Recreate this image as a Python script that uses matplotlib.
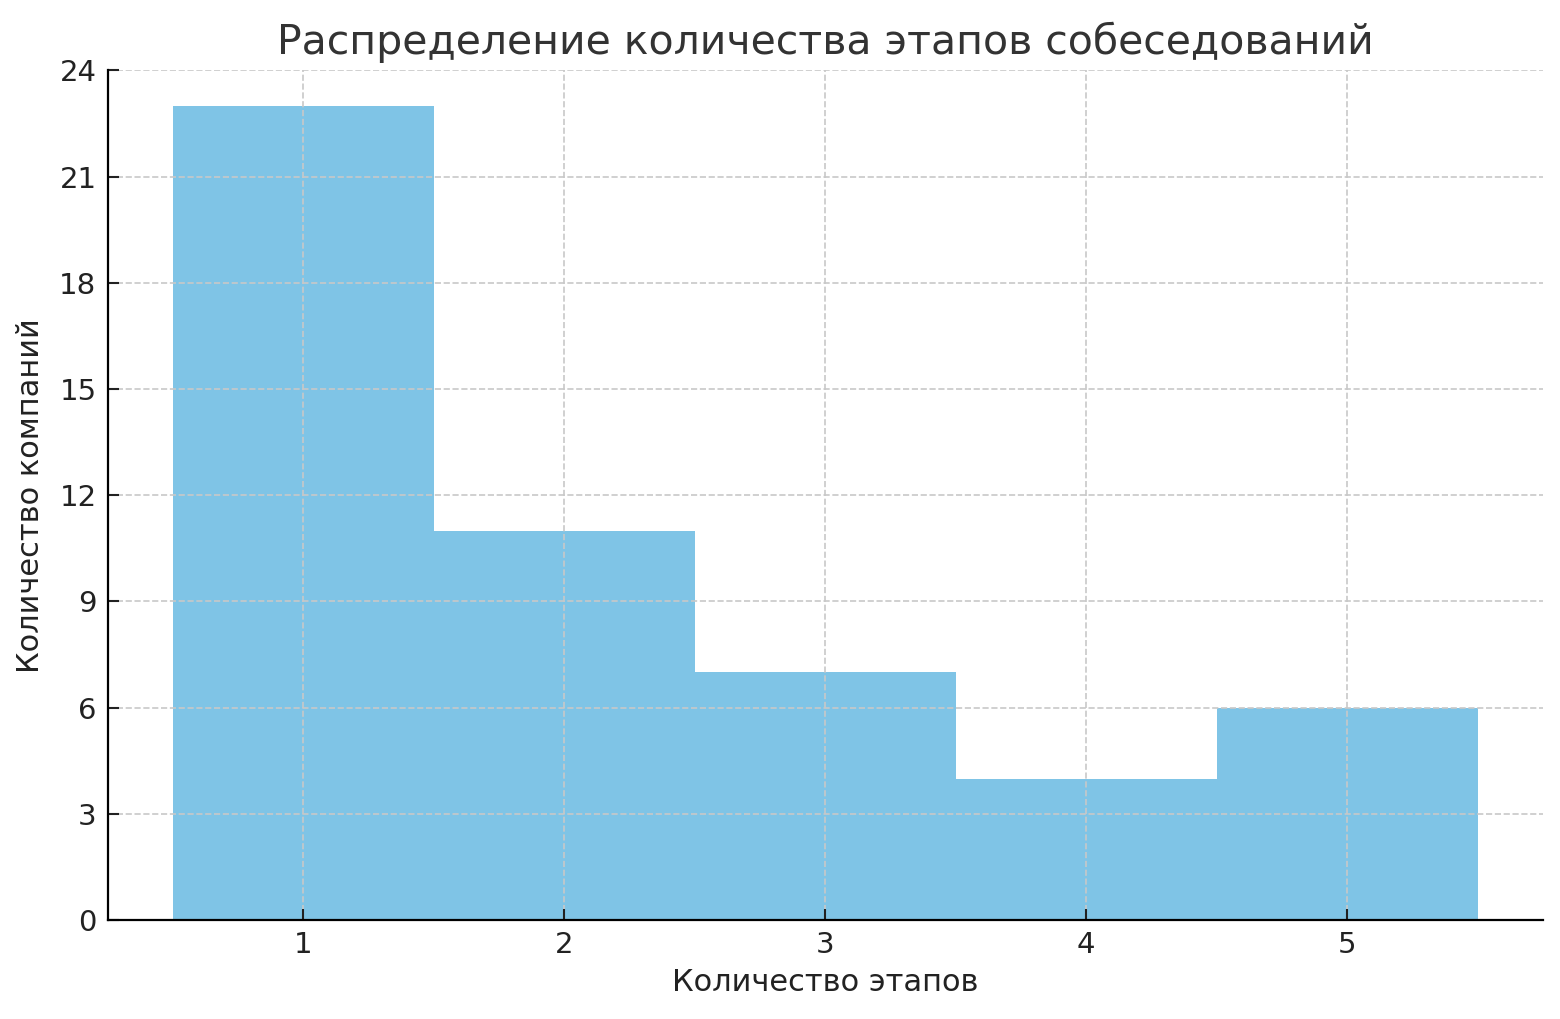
import matplotlib.pyplot as plt

stages = [1, 2, 3, 4, 5]
companies = [23, 11, 7, 4, 6]
y_ticks = [0, 3, 6, 9, 12, 15, 18, 21, 24]

plt.rcParams['font.family'] = ['DejaVu Sans']

fig, ax = plt.subplots(figsize=(15.6, 10.19), dpi=100)
ax.bar(stages, companies, width=1.0, color='#7fc4e6', zorder=1)

ax.set_xlim(0.25, 5.75)
ax.set_ylim(0, 24)
ax.set_xticks(stages)
ax.set_yticks(y_ticks)
ax.tick_params(direction='in', length=8, width=1.5, labelsize=21, colors='#222222', pad=8)
ax.grid(True, linestyle='--', color='#c8c8c8', linewidth=1.2, zorder=2)
ax.set_axisbelow(False)

for side in ['top', 'right']:
    ax.spines[side].set_visible(False)
for side in ['left', 'bottom']:
    ax.spines[side].set_linewidth(1.6)
    ax.spines[side].set_zorder(5)

ax.set_title('Распределение количества этапов собеседований', fontsize=29.5, color='#333333', pad=12)
ax.set_xlabel('Количество этапов', fontsize=22, color='#222222', labelpad=6)
ax.set_ylabel('Количество компаний', fontsize=22, color='#222222', labelpad=10)

plt.subplots_adjust(left=0.069, right=0.989, top=0.931, bottom=0.097)
plt.savefig('out.png')
